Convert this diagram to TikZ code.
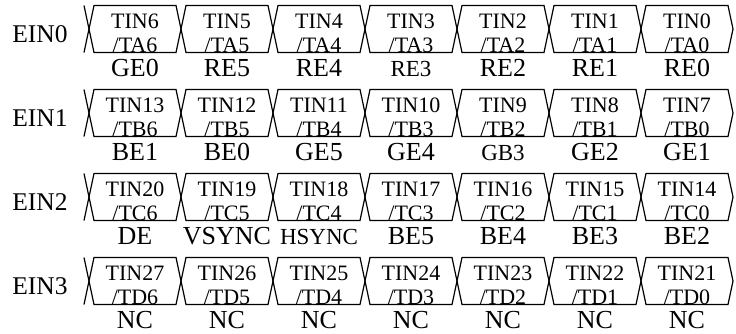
\documentclass[tikz,border=0pt]{standalone}
\usepackage{fontspec}
\setmainfont{Liberation Serif}
\usepackage{tikz}

\newcommand\lbsmall[1]{{\fontsize{23}{23}\selectfont #1}}
% pin names under the cells, one list per row
\def\namesA{GE0,RE5,RE4,\lbsmall{RE3},RE2,RE1,RE0}
\def\namesB{BE1,BE0,GE5,GE4,\lbsmall{GB3},GE2,GE1}
\def\namesC{DE,VSYNC,\lbsmall{HSYNC},BE5,BE4,BE3,BE2}
\def\namesD{NC,NC,NC,NC,NC,NC,NC}

\tikzset{
    bus/.style={line width=1.2pt, line join=miter},
    einlabel/.style={font=\fontsize{25.5}{25.5}\selectfont, inner sep=0pt, anchor=base},
    celltext/.style={font=\fontsize{22}{22}\selectfont, inner sep=0pt, anchor=base},
    pinname/.style={font=\fontsize{26}{26}\selectfont, inner sep=0pt, anchor=base}
}

\begin{document}
\begin{tikzpicture}[x=1pt, y=-1pt]
        \useasboundingbox (0,0) rectangle (736,333);
        \foreach \r/\ch in {0/A,1/B,2/C,3/D} {
            \pgfmathsetmacro\tp{5.5+84*\r}
            \pgfmathsetmacro\md{\tp+23.5}
            \pgfmathsetmacro\bt{\tp+47}
            \expandafter\let\expandafter\names\csname names\ch\endcsname
            \node[einlabel] (ein\r) at (40,\tp+37) {EIN\r};
            % left end of the bus
            \draw[bus] (84,\tp) -- (89,\md) -- (84,\bt);
            % cells
            \foreach \n [count=\i from 0] in \names {
                \pgfmathtruncatemacro\xa{89+92*\i}
                \pgfmathtruncatemacro\xb{\xa+92}
                \pgfmathtruncatemacro\tin{7*\r+6-\i}
                \pgfmathtruncatemacro\bit{6-\i}
                \draw[bus] (\xa,\md) -- (\xa+5,\tp) -- (\xb-5,\tp) -- (\xb,\md)
                    -- (\xb-5,\bt) -- (\xa+5,\bt) -- cycle;
                \node[celltext] (tin\r-\i) at (\xa+46,\tp+22.5) {TIN\tin};
                \node[celltext] (ta\r-\i) at (\xa+46,\tp+46.5) {/T\ch\bit};
                \node[pinname] (pin\r-\i) at (\xa+46,\bt+24) {\n};
            }
        }
    \end{tikzpicture}
\end{document}
